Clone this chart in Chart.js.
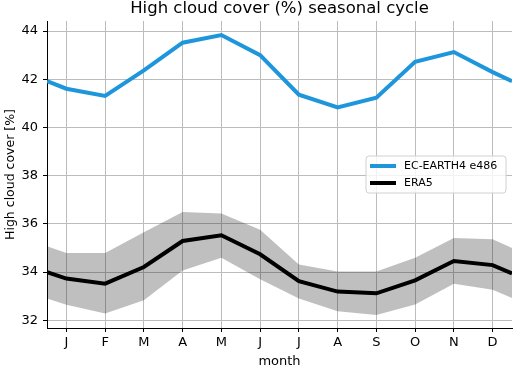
<!DOCTYPE html>
<html>
<head>
<meta charset="utf-8">
<script src="https://cdn.jsdelivr.net/npm/chart.js@4/dist/chart.umd.min.js"></script>
<style>
  html, body { margin: 0; padding: 0; background: #fff; }
  #wrap { width: 513px; height: 369px; }
</style>
</head>
<body>
<div id="wrap"><canvas id="cycle" width="513" height="369"></canvas></div>
<script>
// month letters and x positions (half months at the ends wrap Dec/Jan)
const monthLabels = ["J", "F", "M", "A", "M", "J", "J", "A", "S", "O", "N", "D"];
const xPos = [0.5, 1, 2, 3, 4, 5, 6, 7, 8, 9, 10, 11, 12, 12.5];

const ecEarth = [41.93, 41.61, 41.31, 42.37, 43.52, 43.84, 43.0, 41.36, 40.83, 41.24, 42.73, 43.13, 42.30, 41.92];
const era5 = [34.0, 33.73, 33.52, 34.21, 35.29, 35.53, 34.74, 33.62, 33.19, 33.12, 33.66, 34.46, 34.29, 33.94];
const era5Upper = [35.07, 34.79, 34.79, 35.65, 36.49, 36.43, 35.76, 34.32, 34.02, 34.02, 34.6, 35.41, 35.36, 35.0];
const era5Lower = [32.9, 32.65, 32.28, 32.83, 34.07, 34.6, 33.7, 32.9, 32.37, 32.22, 32.66, 33.52, 33.27, 32.93];
const yTicks = [32, 34, 36, 38, 40, 42, 44];

const pts = vals => vals.map((v, i) => ({x: xPos[i], y: v}));
const FONT = "'DejaVu Sans', sans-serif";

// title centred over the axes, plus the legend box inside them
const decor = {
    id: "decor",
    afterDraw(chart) {
        const ctx = chart.ctx, a = chart.chartArea;
        ctx.save();
        ctx.fillStyle = "#000";
        ctx.font = "16.5px " + FONT;
        ctx.textAlign = "center";
        ctx.textBaseline = "middle";
        ctx.fillText("High cloud cover (%) seasonal cycle", (a.left + a.right) / 2, 9);
        ctx.textAlign = "left";

        const lx = 366, ly = 156, lw = 140, lh = 37, r = 3;
        ctx.beginPath();
        ctx.moveTo(lx + r, ly);
        ctx.arcTo(lx + lw, ly, lx + lw, ly + lh, r);
        ctx.arcTo(lx + lw, ly + lh, lx, ly + lh, r);
        ctx.arcTo(lx, ly + lh, lx, ly, r);
        ctx.arcTo(lx, ly, lx + lw, ly, r);
        ctx.closePath();
        ctx.fillStyle = "rgba(255,255,255,0.8)";
        ctx.fill();
        ctx.strokeStyle = "#d0d0d0";
        ctx.lineWidth = 1;
        ctx.stroke();

        const items = [["EC-EARTH4 e486", "#1e96dc"], ["ERA5", "#000"]];
        items.forEach(([txt, col], i) => {
            const y = ly + 10 + i * 17;
            ctx.strokeStyle = col;
            ctx.lineWidth = 4;
            ctx.beginPath();
            ctx.moveTo(370, y);
            ctx.lineTo(396, y);
            ctx.stroke();
            ctx.fillStyle = "#000";
            ctx.font = "11px " + FONT;
            ctx.fillText(txt, 404, y);
        });
        ctx.restore();
    }
};

new Chart(document.getElementById("cycle").getContext("2d"), {
    type: "line",
    data: {
        datasets: [
            {label: "EC-EARTH4 e486", data: pts(ecEarth), borderColor: "#1e96dc", borderWidth: 4,
                pointRadius: 0, fill: false, order: 1},
            {label: "ERA5", data: pts(era5), borderColor: "#000", borderWidth: 4,
                pointRadius: 0, fill: false, order: 2},
            {label: "upper", data: pts(era5Upper), borderWidth: 0, borderColor: "rgba(0,0,0,0)",
                pointRadius: 0, fill: false, order: 3},
            {label: "lower", data: pts(era5Lower), borderWidth: 0, borderColor: "rgba(0,0,0,0)",
                backgroundColor: "rgba(0,0,0,0.25)", pointRadius: 0, fill: "-1", order: 3}
        ]
    },
    options: {
        responsive: false,
        animation: false,
        layout: {padding: {left: 0, right: 1, top: 21, bottom: 0}},
        plugins: {
            legend: {display: false},
            tooltip: {enabled: false},
            title: {display: false}
        },
        scales: {
            x: {
                type: "linear", min: 0.5, max: 12.5,
                afterBuildTicks: s => { s.ticks = monthLabels.map((_, i) => ({value: i + 1})); },
                afterFit: s => { s.height = 41; },
                ticks: {callback: v => monthLabels[v - 1], color: "#000", padding: 3, maxRotation: 0,
                    font: {family: FONT, size: 13}},
                grid: {color: "#bcbcbc", lineWidth: 1, tickLength: 4, tickColor: "#000"},
                border: {color: "#000", width: 1},
                title: {display: true, text: "month", color: "#000", padding: {top: 0, bottom: 0},
                    font: {family: FONT, size: 13}}
            },
            y: {
                min: 31.68, max: 44.42,
                afterBuildTicks: s => { s.ticks = yTicks.map(v => ({value: v})); },
                afterFit: s => { s.width = 47; },
                ticks: {color: "#000", padding: 5, font: {family: FONT, size: 13}},
                grid: {color: "#bcbcbc", lineWidth: 1, tickLength: 4, tickColor: "#000"},
                border: {color: "#000", width: 1},
                title: {display: true, text: "High cloud cover [%]", color: "#000", padding: {top: 3, bottom: 0},
                    font: {family: FONT, size: 12.5}}
            }
        }
    },
    plugins: [decor]
});
</script>
</body>
</html>
